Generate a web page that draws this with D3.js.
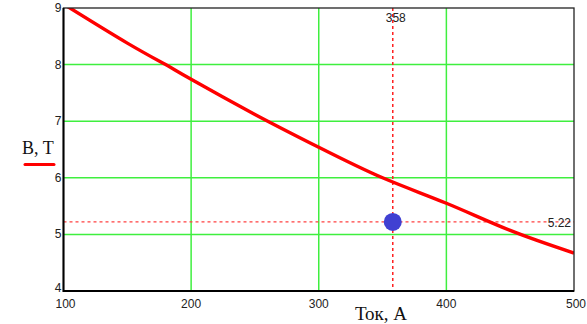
<!DOCTYPE html>
<html>
<head>
<meta charset="utf-8">
<script src="https://cdn.jsdelivr.net/npm/d3@7"></script>
<style>
  body { margin: 0; background: #fff; }
  svg { display: block; }
</style>
</head>
<body>
<div id="chart"></div>
<script>
// data
const current = [100, 150, 180, 200, 250, 300, 350, 400, 450, 500]
const induction = [9.07, 8.38, 8.0, 7.74, 7.12, 6.54, 6.0, 5.55, 5.07, 4.67]
const xTicks = [100, 200, 300, 400, 500]
const yTicks = [4, 5, 6, 7, 8, 9]
const markX = 358
const markY = 5.22
const xTitle = "Ток, А"
const yTitle = "B, T"

const width = 587
const height = 324
const m = { left: 63.5, right: 13, top: 8, bottom: 33 }

const svg = d3.select("#chart")
    .append("svg")
    .attr("width", width)
    .attr("height", height)

const x = d3.scaleLinear()
    .domain([100, 500])
    .range([m.left, width - m.right])

const y = d3.scaleLinear()
    .domain([4, 9])
    .range([height - m.bottom, m.top])

const green = "#3fef3f"

// grid
svg.append("g")
    .selectAll("line")
    .data(xTicks.slice(1, -1))
    .enter()
    .append("line")
    .attr("x1", d => x(d)).attr("x2", d => x(d))
    .attr("y1", y(9)).attr("y2", y(4))
    .style("stroke", green)
    .style("stroke-width", 1.5)

svg.append("g")
    .selectAll("line")
    .data(yTicks.slice(1, -1))
    .enter()
    .append("line")
    .attr("x1", x(100)).attr("x2", x(500))
    .attr("y1", d => y(d)).attr("y2", d => y(d))
    .style("stroke", green)
    .style("stroke-width", 1.5)

// marker lines
svg.append("line")
    .attr("x1", x(markX)).attr("x2", x(markX))
    .attr("y1", y(9)).attr("y2", y(4))
    .style("stroke", "#ff2020")
    .style("stroke-width", 1.5)
    .style("stroke-dasharray", "3,3")

svg.append("line")
    .attr("x1", x(100)).attr("x2", x(500))
    .attr("y1", y(markY)).attr("y2", y(markY))
    .style("stroke", "#ff4040")
    .style("stroke-width", 1.3)
    .style("stroke-dasharray", "3,3")

// curve
const line = d3.line()
    .x(d => x(d[0]))
    .y(d => y(d[1]))
    .curve(d3.curveNatural)

svg.append("defs").append("clipPath").attr("id", "clip")
    .append("rect")
    .attr("x", x(100)).attr("y", y(9))
    .attr("width", x(500) - x(100)).attr("height", y(4) - y(9))

svg.append("path")
    .datum(current.map((c, i) => [c, induction[i]]))
    .attr("d", line)
    .attr("clip-path", "url(#clip)")
    .style("fill", "none")
    .style("stroke", "#ff0000")
    .style("stroke-width", 3.4)

// point
svg.append("circle")
    .attr("cx", x(markX))
    .attr("cy", y(markY))
    .attr("r", 9)
    .style("fill", "#4040d2")

// frame
svg.append("rect")
    .attr("x", x(100)).attr("y", y(9))
    .attr("width", x(500) - x(100)).attr("height", y(4) - y(9))
    .style("fill", "none")
    .style("stroke", "#222")
    .style("stroke-width", 1.3)

svg.append("path")
    .attr("d", `M${x(100)},${y(9)}V${y(4)}H${x(500)}`)
    .style("fill", "none")
    .style("stroke", "#000")
    .style("stroke-width", 2)

// tick labels
const tickFont = "'Liberation Sans', Arial, sans-serif"

svg.append("g")
    .selectAll("text")
    .data(yTicks)
    .enter()
    .append("text")
    .attr("x", x(100) - 2)
    .attr("y", d => y(d) + (d === 4 ? 1 : 4))
    .attr("text-anchor", "end")
    .style("font-family", tickFont)
    .style("font-size", "12px")
    .style("fill", "#222")
    .text(d => d)

svg.append("g")
    .selectAll("text")
    .data(xTicks)
    .enter()
    .append("text")
    .attr("x", d => x(d) + (d === 100 ? 2 : d === 500 ? 2 : 0))
    .attr("y", y(4) + 17)
    .attr("text-anchor", "middle")
    .style("font-family", tickFont)
    .style("font-size", "12px")
    .style("fill", "#222")
    .text(d => d)

// marker labels
svg.append("text")
    .attr("x", x(markX) + 3)
    .attr("y", 22)
    .attr("text-anchor", "middle")
    .style("font-family", tickFont)
    .style("font-size", "12px")
    .style("fill", "#222")
    .text(markX)

svg.append("text")
    .attr("x", x(500) - 3)
    .attr("y", y(markY) + 5)
    .attr("text-anchor", "end")
    .style("font-family", tickFont)
    .style("font-size", "12px")
    .style("fill", "#222")
    .text(markY.toFixed(2))

// axis titles
const titleFont = "'Liberation Serif', 'Times New Roman', serif"

svg.append("text")
    .attr("x", 22)
    .attr("y", 153.5)
    .style("font-family", titleFont)
    .style("font-size", "18px")
    .style("fill", "#111")
    .text(yTitle)

svg.append("line")
    .attr("x1", 25).attr("x2", 54)
    .attr("y1", 164.5).attr("y2", 164.5)
    .style("stroke", "#ff0000")
    .style("stroke-width", 3)
    .style("stroke-linecap", "round")

svg.append("text")
    .attr("x", 381)
    .attr("y", 319.5)
    .attr("text-anchor", "middle")
    .style("font-family", titleFont)
    .style("font-size", "19px")
    .style("fill", "#111")
    .text(xTitle)
</script>
</body>
</html>
